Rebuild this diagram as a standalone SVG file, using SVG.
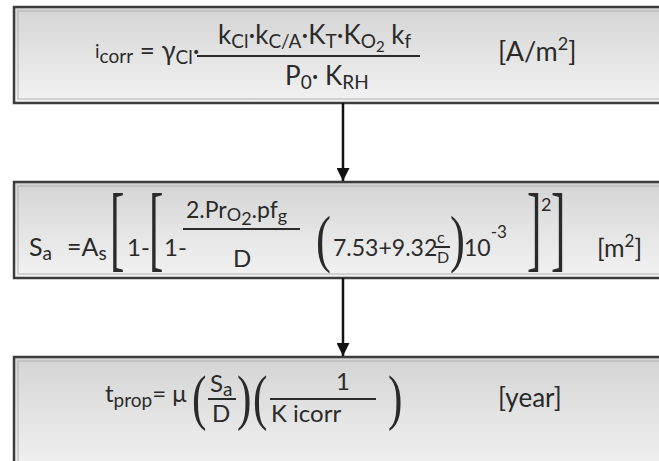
<svg xmlns="http://www.w3.org/2000/svg" width="659" height="461" viewBox="0 0 659 461">
<defs>
<linearGradient id="bg" x1="0" y1="0" x2="0" y2="1">
<stop offset="0" stop-color="#d4d4d4"/>
<stop offset="0.5" stop-color="#e4e4e4"/>
<stop offset="1" stop-color="#f2f2f2"/>
</linearGradient>
<marker id="ah" markerWidth="16" markerHeight="13" refX="13" refY="6.5" orient="auto" markerUnits="userSpaceOnUse">
<path d="M0,0 L13,6.5 L0,13 Z" fill="#111"/>
</marker>
<style>
.box{fill:url(#bg);stroke:#3c3c3c;stroke-width:2.5}
.inner{fill:none;stroke:#b0b0b0;stroke-width:1}
text{font-family:Lato,"Liberation Sans",sans-serif;fill:#2a2a2a}
.br{font-family:"Liberation Serif",serif}
.bar{stroke:#2a2a2a;stroke-width:2}
.con{stroke:#111;stroke-width:2.5;fill:none}
</style>
</defs>
<rect width="659" height="461" fill="#fff"/>

<g id="node-icorr">
<rect class="box" x="14" y="7" width="660" height="96"/>
<rect class="inner" x="18" y="11" width="660" height="88"/>
<text font-size="26" x="95" y="60"><tspan font-size="19" dy="-2">i</tspan><tspan font-size="19" dy="5">corr</tspan><tspan dy="-3"> = γ</tspan><tspan font-size="19" dy="4">Cl</tspan><tspan dy="-4">·</tspan></text>
<text font-size="26" x="218" y="44">k<tspan font-size="19" dy="4">Cl</tspan><tspan dy="-4">·k</tspan><tspan font-size="19" dy="4">C/A</tspan><tspan dy="-4">·K</tspan><tspan font-size="19" dy="4">T</tspan><tspan dy="-4">·K</tspan><tspan font-size="19" dy="4">O</tspan><tspan font-size="15" dy="4">2</tspan><tspan dy="-8"> k</tspan><tspan font-size="19" dy="4">f</tspan></text>
<line class="bar" x1="197" y1="56" x2="420" y2="56"/>
<text font-size="26" x="285" y="85">P<tspan font-size="19" dy="4">0</tspan><tspan dy="-4">· K</tspan><tspan font-size="19" dy="4">RH</tspan></text>
<text font-size="27" x="498" y="61">[A/m<tspan font-size="18" dy="-11">2</tspan><tspan dy="11">]</tspan></text>
</g>

<g id="node-sa">
<rect class="box" x="14" y="182" width="660" height="96"/>
<rect class="inner" x="18" y="186" width="660" height="88"/>
<text font-size="25" x="29" y="256">S<tspan font-size="19" dy="4">a</tspan><tspan dy="-4" x="67">=A</tspan><tspan font-size="19" dy="4">s</tspan></text>
<text class="br" font-size="96" transform="translate(110,259) scale(0.45,1)">[</text>
<text font-size="24" x="127" y="256">1-</text>
<text class="br" font-size="96" transform="translate(149,259) scale(0.45,1)">[</text>
<text font-size="24" x="164" y="256">1-</text>
<text font-size="23" x="186" y="218">2.Pr<tspan font-size="18" dy="3">O</tspan><tspan font-size="18" dy="4">2</tspan><tspan dy="-7">.pf</tspan><tspan font-size="18" dy="4">g</tspan></text>
<line class="bar" x1="183" y1="229" x2="300" y2="229"/>
<text font-size="24" x="233" y="267">D</text>
<text class="br" font-size="64" transform="translate(316,260) scale(0.7,1)">(</text>
<text font-size="23" x="333" y="256">7.53+9.32</text>
<text font-size="16" x="437" y="243">c</text>
<line class="bar" x1="435" y1="247" x2="450" y2="247" stroke-width="1.5"/>
<text font-size="16" x="437" y="263">D</text>
<text class="br" font-size="64" transform="translate(450,260) scale(0.7,1)">)</text>
<text font-size="23" x="464" y="256">10<tspan font-size="17" dy="-18">-3</tspan></text>
<text class="br" font-size="96" transform="translate(527,259) scale(0.45,1)">]</text>
<text font-size="18" x="541" y="211">2</text>
<text class="br" font-size="96" transform="translate(551,259) scale(0.45,1)">]</text>
<text font-size="25" x="597" y="257">[m<tspan font-size="17" dy="-10">2</tspan><tspan dy="10">]</tspan></text>
</g>

<g id="node-tprop">
<rect class="box" x="14" y="357" width="660" height="120"/>
<rect class="inner" x="18" y="361" width="660" height="120"/>
<text font-size="24" x="105" y="402">t<tspan font-size="19" dy="5">prop</tspan><tspan dy="-5">= μ</tspan></text>
<text class="br" font-size="62" transform="translate(192,418) scale(0.7,1)">(</text>
<text font-size="24" x="210" y="392">S<tspan font-size="19" dy="4">a</tspan></text>
<line class="bar" x1="208" y1="399" x2="236" y2="399"/>
<text font-size="24" x="212" y="422">D</text>
<text class="br" font-size="62" transform="translate(237,418) scale(0.7,1)">)</text>
<text class="br" font-size="62" transform="translate(253,418) scale(0.7,1)">(</text>
<text font-size="24" x="336" y="390">1</text>
<text font-size="24" x="271" y="422">K icorr</text>
<line class="bar" x1="270" y1="399" x2="376" y2="399"/>
<text class="br" font-size="62" transform="translate(388,418) scale(0.7,1)">)</text>
<text font-size="26" x="498" y="407">[year]</text>
</g>

<g id="connectors">
<line class="con" x1="343" y1="103" x2="343" y2="181" marker-end="url(#ah)"/>
<line class="con" x1="343" y1="278" x2="343" y2="356" marker-end="url(#ah)"/>
</g>
</svg>
